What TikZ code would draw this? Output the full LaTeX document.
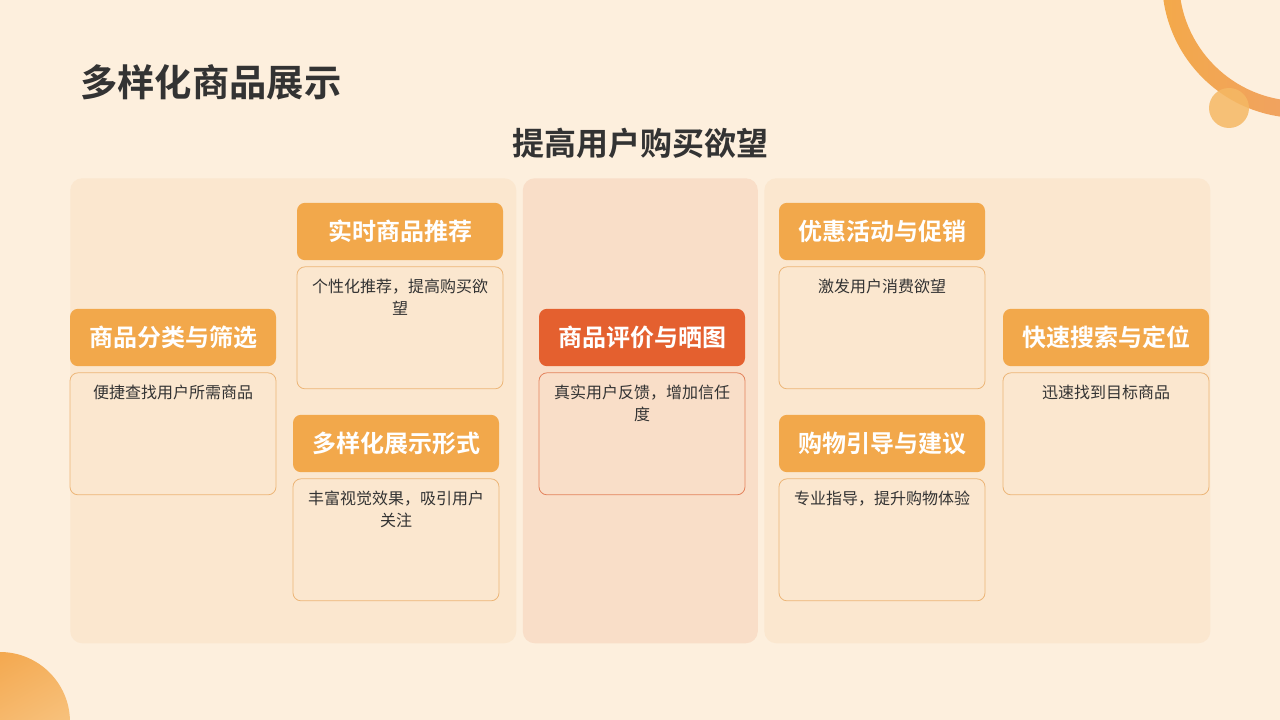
\documentclass[tikz,border=0pt]{standalone}
\usepackage{fontspec}
\setmainfont{Noto Sans CJK SC}[BoldFont={Noto Sans CJK SC Bold}]
\usetikzlibrary{positioning}
\definecolor{pagebg}{HTML}{FDEFDD}
\definecolor{sidepanel}{HTML}{FBE7CF}
\definecolor{midpanel}{HTML}{F9DEC8}
\definecolor{hdrorange}{HTML}{F2A84B}
\definecolor{hdrred}{HTML}{E4602F}
\definecolor{cardline}{HTML}{ECB577}
\definecolor{cardlinered}{HTML}{E3825C}
\definecolor{textdark}{HTML}{333333}
\definecolor{ringa}{HTML}{F3A94A}
\definecolor{ringb}{HTML}{EE9A7C}
\definecolor{dotorange}{HTML}{F5B864}
\definecolor{blobdark}{HTML}{F3A64B}
\definecolor{bloblight}{HTML}{F9CB8E}

\begin{document}
\begin{tikzpicture}[x=0.75pt,y=-0.75pt,
  panel/.style={fill=#1, draw=none, rounded corners=9pt},
  header/.style={fill=#1, rounded corners=6pt, minimum width=154.5pt, minimum height=43pt, inner sep=0pt, text=white, font=\bfseries\fontsize{18}{20}\selectfont},
  card/.style={draw=#1, line width=0.6pt, rounded corners=6pt, minimum width=154.5pt, minimum height=91.5pt, inner sep=0pt},
  note/.style={text width=140pt, align=center, inner sep=0pt, text=textdark, font=\fontsize{12}{16.5}\selectfont}]

% BACKGROUND

\fill[pagebg] (0,0) rectangle (1280,720);
\useasboundingbox (0,0) rectangle (1280,720);

\shade[left color=ringa, right color=ringb, even odd rule] (1300,-20) circle (138) (1300,-20) circle (121);
\fill[dotorange, opacity=0.85] (1229,108) circle (20);
\shade[top color=blobdark, bottom color=bloblight, shading angle=30] (0,722) circle (70);

% TITLES

\node[anchor=west, inner sep=0pt, text=textdark, font=\bfseries\fontsize{28}{30}\selectfont] (titulo) at (80,82) {多样化商品展示};
\node[inner sep=0pt, text=textdark, font=\bfseries\fontsize{24}{26}\selectfont] (subtitulo) at (640,143) {提高用户购买欲望};

% PANELS

\node[panel=sidepanel, minimum width=334.5pt, minimum height=348.75pt, anchor=north west] (painel-esq) at (70,178) {};
\node[panel=midpanel, minimum width=176.25pt, minimum height=348.75pt, right=4.5pt of painel-esq] (painel-meio) {};
\node[panel=sidepanel, minimum width=334.5pt, minimum height=348.75pt, right=4.5pt of painel-meio] (painel-dir) {};

% CARDS

\node[header=hdrorange] (fenlei) at (173,337.5) {商品分类与筛选};
\node[card=cardline, fill=sidepanel, below=4.5pt of fenlei] (fenlei-card) {};
\node[note, below=9.5pt of fenlei-card.north] (fenlei-note) {便捷查找用户所需商品};

\node[header=hdrorange] (tuijian) at (400,231.5) {实时商品推荐};
\node[card=cardline, fill=sidepanel, below=4.5pt of tuijian] (tuijian-card) {};
\node[note, below=9.5pt of tuijian-card.north] (tuijian-note) {个性化推荐，提高购买欲\\望};

\node[header=hdrorange] (zhanshi) at (396,443.5) {多样化展示形式};
\node[card=cardline, fill=sidepanel, below=4.5pt of zhanshi] (zhanshi-card) {};
\node[note, below=9.5pt of zhanshi-card.north] (zhanshi-note) {丰富视觉效果，吸引用户\\关注};

\node[header=hdrred] (pingjia) at (642,337.5) {商品评价与晒图};
\node[card=cardlinered, fill=midpanel, below=4.5pt of pingjia] (pingjia-card) {};
\node[note, below=9.5pt of pingjia-card.north] (pingjia-note) {真实用户反馈，增加信任\\度};

\node[header=hdrorange] (youhui) at (882,231.5) {优惠活动与促销};
\node[card=cardline, fill=sidepanel, below=4.5pt of youhui] (youhui-card) {};
\node[note, below=9.5pt of youhui-card.north] (youhui-note) {激发用户消费欲望};

\node[header=hdrorange] (yindao) at (882,443.5) {购物引导与建议};
\node[card=cardline, fill=sidepanel, below=4.5pt of yindao] (yindao-card) {};
\node[note, below=9.5pt of yindao-card.north] (yindao-note) {专业指导，提升购物体验};

\node[header=hdrorange] (sousuo) at (1106,337.5) {快速搜索与定位};
\node[card=cardline, fill=sidepanel, below=4.5pt of sousuo] (sousuo-card) {};
\node[note, below=9.5pt of sousuo-card.north] (sousuo-note) {迅速找到目标商品};

\end{tikzpicture}
\end{document}
